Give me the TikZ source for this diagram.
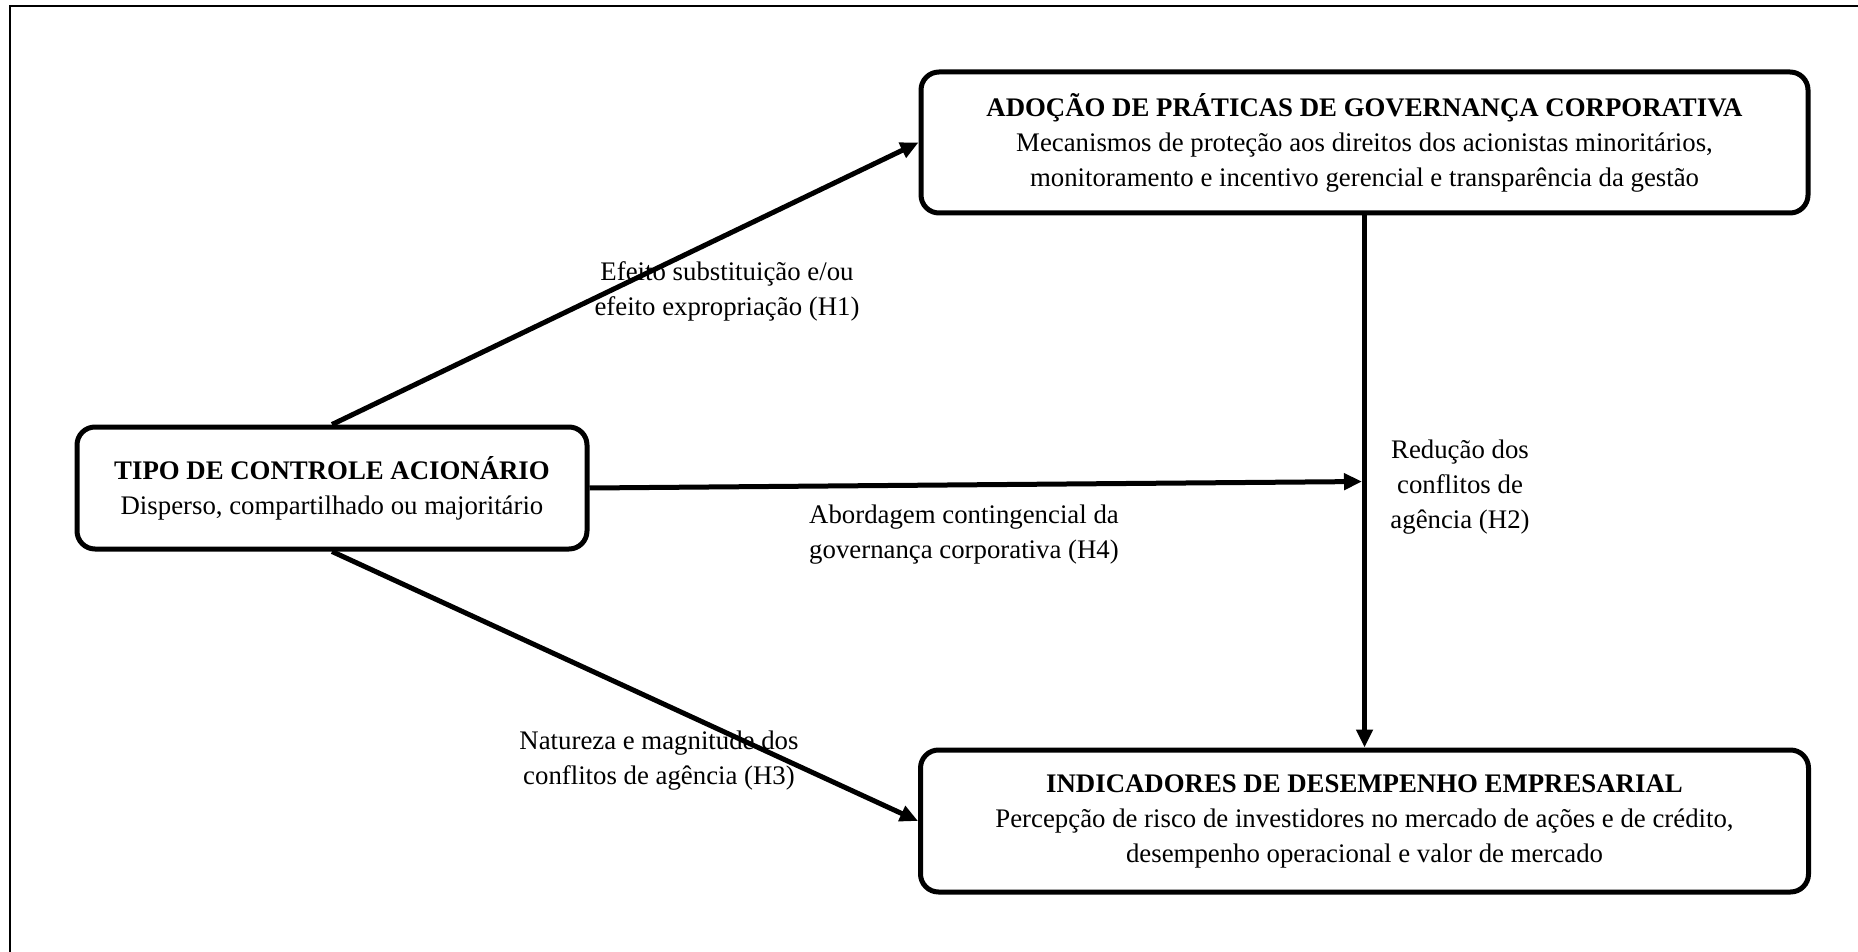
\documentclass[tikz,border=0pt]{standalone}
\usepackage{fontspec}
\setmainfont{Liberation Serif}
\usetikzlibrary{arrows.meta,calc}

\begin{document}
\begin{tikzpicture}[x=0.5pt, y=-0.5pt,
  box/.style={draw, line width=2.5pt, rounded corners=9pt, align=center, inner sep=0pt,
    font=\fontsize{13.4}{17.5}\selectfont},
  lbl/.style={align=center, inner sep=0pt, font=\fontsize{13.4}{17.5}\selectfont},
  arr/.style={line width=2.5pt, -{Triangle[length=9pt,width=8pt]}}]
\useasboundingbox (0,0) rectangle (1858,952);
\draw[line width=1pt] (10,952) -- (10,6) -- (1858,6);

\node[box, minimum width=255pt, minimum height=61pt] (ctrl) at (332,488)
  {\textbf{TIPO DE CONTROLE ACIONÁRIO}\\Disperso, compartilhado ou majoritário};
\node[box, minimum width=443.5pt, minimum height=70.5pt] (gov) at (1364.5,142.5)
  {\textbf{ADOÇÃO DE PRÁTICAS DE GOVERNANÇA CORPORATIVA}\\
   Mecanismos de proteção aos direitos dos acionistas minoritários,\\
   monitoramento e incentivo gerencial e transparência da gestão};
\node[box, minimum width=444pt, minimum height=71pt] (perf) at (1364.5,821)
  {\textbf{INDICADORES DE DESEMPENHO EMPRESARIAL}\\
   Percepção de risco de investidores no mercado de ações e de crédito,\\
   desempenho operacional e valor de mercado};

\coordinate (meet) at ($(gov.south)!0.5!(perf.north)$);

\draw[arr] (ctrl.north) -- (gov.west);
\draw[arr] (ctrl.south) -- (perf.west);
\draw[arr] (gov.south) -- (perf.north);
\draw[arr, shorten >=1.25pt] (ctrl.east) -- (meet);

\node[lbl] (h1) at (727,291) {Efeito substituição e/ou\\efeito expropriação (H1)};
\node[lbl] (h2) at (1460,487) {Redução dos\\conflitos de\\agência (H2)};
\node[lbl] (h4) at (964,535) {Abordagem contingencial da\\governança corporativa (H4)};
\node[lbl] (h3) at (659,761) {Natureza e magnitude dos\\conflitos de agência (H3)};
\end{tikzpicture}
\end{document}
